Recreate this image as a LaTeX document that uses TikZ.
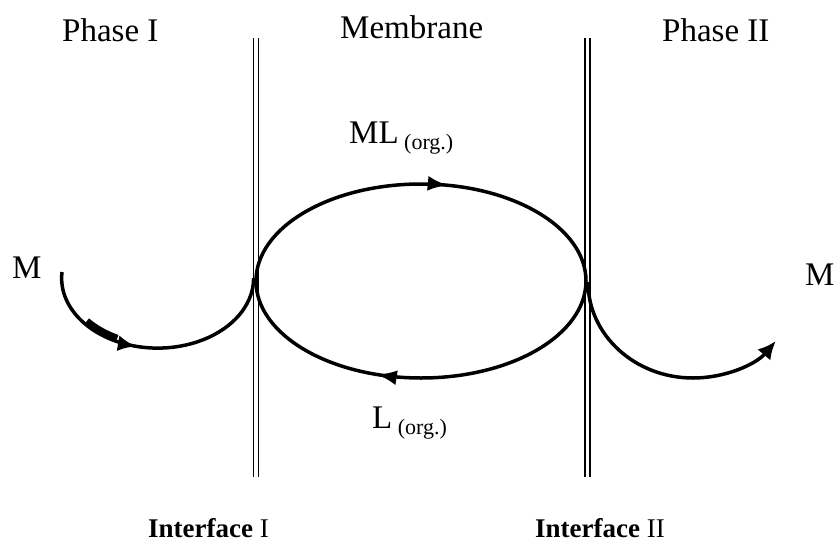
\documentclass[tikz,border=0pt]{standalone}
\usepackage{fontspec}
\setmainfont{Liberation Serif}
\usetikzlibrary{arrows.meta,decorations.markings}
\begin{document}
\begin{tikzpicture}[x=1pt,y=-1pt,
  lbl/.style={inner sep=0pt,anchor=base west,font=\fontsize{33}{36}\selectfont},
  iflbl/.style={inner sep=0pt,anchor=base west,font=\fontsize{27}{30}\selectfont},
  wall/.style={line width=1.4pt},
  flow/.style={line width=3.5pt}]
\useasboundingbox (0,0) rectangle (838,549);
% walls
\draw[wall] (253.5,38) -- (253.5,477);
\draw[wall] (258.5,38) -- (258.5,477);
\draw[wall] (585,38) -- (585,477);
\draw[wall] (590,38) -- (590,477);
% coordinates
\coordinate (mstart) at (62,272);
\coordinate (jl) at (256,281);
\coordinate (jr) at (588,282);
\coordinate (wedge) at (86.8,321.1);
% left curve
\draw[flow,postaction={decorate},decoration={markings,mark=at position 0.43 with {\arrow{Latex[length=18pt,width=16pt]}}}]
  (mstart) arc[start angle=185,end angle=0,x radius=96,y radius=70];
\draw[line width=7pt] (wedge) arc[start angle=140,end angle=116,x radius=93,y radius=67];
% ellipse
\draw[flow,postaction={decorate},decoration={markings,
   mark=at position 0.282 with {\arrow{Latex[length=20pt,width=15pt]}},
   mark=at position 0.803 with {\arrow{Latex[length=20pt,width=15pt]}}}]
  (jl) arc[start angle=180,end angle=360,x radius=165,y radius=97]
       arc[start angle=0,end angle=180,x radius=165,y radius=97];
% right curve
\draw[flow,-{Latex[length=18pt,width=17pt]}]
  (jr) arc[start angle=180,end angle=38,x radius=105,y radius=96];
% labels
\node[lbl] (ph1) at (62,41) {Phase I};
\node[lbl] (mem) at (340,38) {Membrane};
\node[lbl] (ph2) at (662,41) {Phase II};
\node[lbl] (ml) at (349,143) {ML\raisebox{-6pt}{\fontsize{22}{24}\selectfont\ (org.)}};
\node[lbl] (lo) at (372,428) {L\raisebox{-6pt}{\fontsize{22}{24}\selectfont\ (org.)}};
\node[lbl] (m1) at (12,278) {M};
\node[lbl] (m2) at (805,285) {M};
\node[iflbl] (if1) at (148,537) {\textbf{Interface} I};
\node[iflbl] (if2) at (535,537) {\textbf{Interface} II};
\end{tikzpicture}
\end{document}
